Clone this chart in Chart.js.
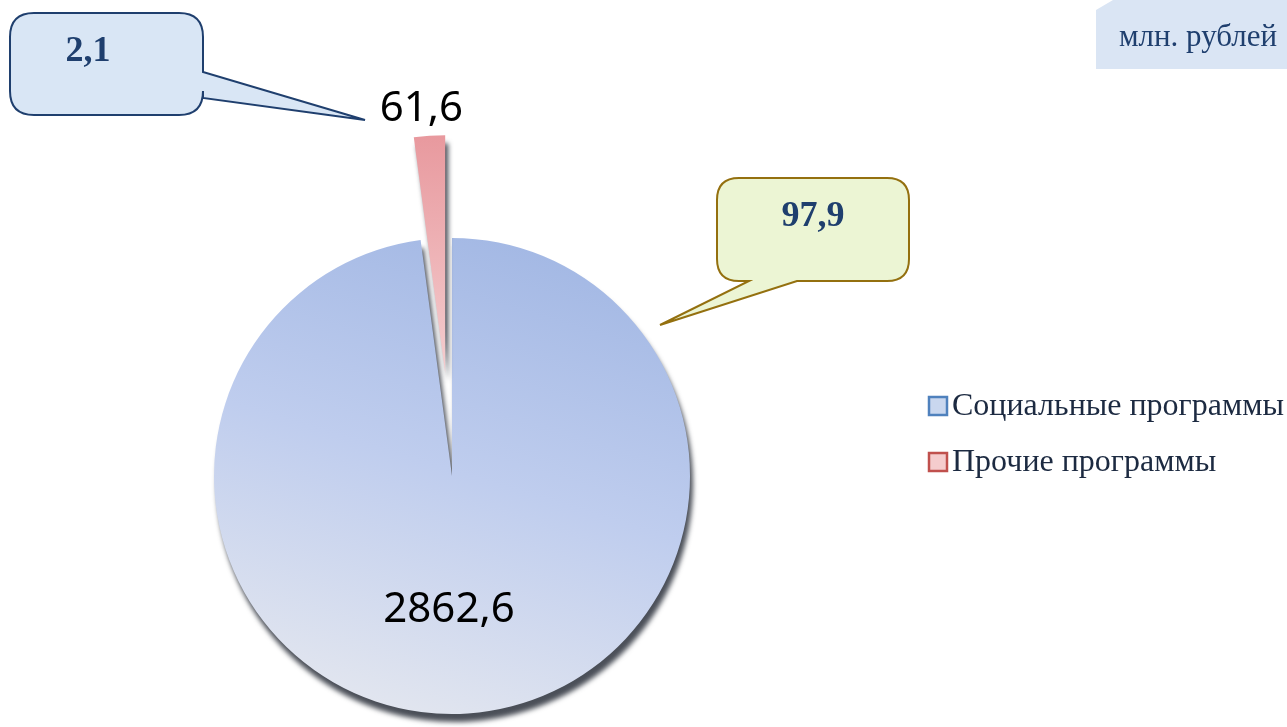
<!DOCTYPE html>
<html>
<head>
<meta charset="utf-8">
<script src="https://cdn.jsdelivr.net/npm/chart.js@4/dist/chart.umd.min.js"></script>
<style>
  html, body { margin: 0; padding: 0; background: #fff; }
  #wrap { width: 1287px; height: 727px; position: relative; }
</style>
</head>
<body>
<div id="wrap"><canvas id="pie"></canvas></div>
<script>
// data
const categories = ["Социальные программы", "Прочие программы"];
const amounts = [2862.6, 61.6];          // млн. рублей
const sharePct = ["97,9", "2,1"];        // shares shown in the callouts
const unitLabel = "млн. рублей";

const COLORS = {
  blueTop: "#a3b8e4",
  blueBottom: "#e1e5ef",
  pinkTop: "#e8999e",
  pinkTip: "#f4cdcf",
  navy: "#1f3f6e",
  legendText: "#1c2a41",
  calloutBlue: "#d9e6f5",
  calloutGreen: "#ecf5d4",
  calloutGold: "#94700f",
  units: "#dae5f4",
};

const RADIUS = 238;
const EXPLODE = 103; // how far the small slice is pulled out, px

function fmt(v) {
  return v.toFixed(1).replace(".", ",");
}

function center(chart) {
  const a = chart.chartArea;
  return { x: (a.left + a.right) / 2, y: (a.top + a.bottom) / 2 };
}

function sliceFill(context) {
  const chart = context.chart;
  if (!chart.chartArea) return context.dataIndex === 0 ? COLORS.blueTop : COLORS.pinkTop;
  const c = center(chart);
  const g2d = chart.ctx;
  if (context.dataIndex === 0) {
    const g = g2d.createLinearGradient(c.x + 0.45 * RADIUS, c.y - 0.95 * RADIUS, c.x - 0.15 * RADIUS, c.y + RADIUS);
    g.addColorStop(0, COLORS.blueTop);
    g.addColorStop(0.5, "#bfcdee");
    g.addColorStop(1, COLORS.blueBottom);
    return g;
  }
  // drawn in the un-shifted frame, the slice is moved afterwards
  const g = g2d.createLinearGradient(0, c.y - RADIUS, 0, c.y);
  g.addColorStop(0, COLORS.pinkTop);
  g.addColorStop(1, COLORS.pinkTip);
  return g;
}

function roundedCallout(ctx, box, tail, r) {
  const { l, t, b } = box;
  const rr = box.r;
  ctx.beginPath();
  ctx.moveTo(l + r, t);
  ctx.lineTo(rr - r, t);
  ctx.quadraticCurveTo(rr, t, rr, t + r);
  if (tail.side === "right") {
    ctx.lineTo(rr, tail.a);
    ctx.lineTo(tail.tip[0], tail.tip[1]);
    ctx.lineTo(rr, tail.b);
  }
  ctx.lineTo(rr, b - r);
  ctx.quadraticCurveTo(rr, b, rr - r, b);
  if (tail.side === "bottom") {
    ctx.lineTo(tail.a, b);
    ctx.lineTo(tail.tip[0], tail.tip[1]);
    ctx.lineTo(tail.b, b);
  }
  ctx.lineTo(l + r, b);
  ctx.quadraticCurveTo(l, b, l, b - r);
  ctx.lineTo(l, t + r);
  ctx.quadraticCurveTo(l, t, l + r, t);
  ctx.closePath();
}

// pull the small slice out without chart.js' offset, which also stretches
// and narrows the arc
const explodePlugin = {
  id: "explode",
  afterDatasetUpdate(chart) {
    const arc = chart.getDatasetMeta(0).data[1];
    if (!arc || arc._pulled) return;
    const base = arc.draw;
    arc.draw = function (ctx, area) {
      const mid = (this.startAngle + this.endAngle) / 2;
      ctx.save();
      ctx.translate(Math.cos(mid) * EXPLODE, Math.sin(mid) * EXPLODE);
      base.call(this, ctx, area);
      ctx.restore();
    };
    arc._pulled = true;
  },
};

const shadowPlugin = {
  id: "shadow",
  beforeDatasetsDraw(chart) {
    const c = chart.ctx;
    c.save();
    c.shadowColor = "rgba(55,60,70,0.9)";
    c.shadowBlur = 5;
    c.shadowOffsetX = 3;
    c.shadowOffsetY = 8;
  },
  afterDatasetsDraw(chart) {
    chart.ctx.restore();
  },
};

const valueLabels = {
  id: "valueLabels",
  afterDatasetsDraw(chart) {
    const ctx = chart.ctx;
    const arcs = chart.getDatasetMeta(0).data;
    ctx.save();
    ctx.font = "42px 'Noto Sans'";
    ctx.fillStyle = "#000";
    ctx.textAlign = "center";
    ctx.textBaseline = "middle";
    arcs.forEach((arc, i) => {
      if (i === 0) {
        // big slice: label sits low inside the pie
        ctx.fillText(fmt(amounts[i]), arc.x - 3, arc.y + arc.outerRadius * 0.565);
        return;
      }
      const mid = (arc.startAngle + arc.endAngle) / 2 - 0.017;
      const dist = arc.outerRadius + EXPLODE + 27;
      ctx.fillText(fmt(amounts[i]), arc.x + Math.cos(mid) * dist, arc.y + Math.sin(mid) * dist);
    });
    ctx.restore();
  },
};

const decorations = {
  id: "decorations",
  afterDraw(chart) {
    const ctx = chart.ctx;
    ctx.save();

    // callout with the share of the other programmes
    roundedCallout(ctx, { l: 10, t: 13, r: 203, b: 115 }, { side: "right", a: 72, b: 98, tip: [365, 120] }, 24);
    ctx.fillStyle = COLORS.calloutBlue;
    ctx.fill();
    ctx.lineWidth = 2;
    ctx.strokeStyle = COLORS.navy;
    ctx.stroke();

    // callout with the share of the social programmes
    roundedCallout(ctx, { l: 717, t: 178, r: 909, b: 281 }, { side: "bottom", a: 797, b: 749, tip: [660, 325] }, 22);
    ctx.fillStyle = COLORS.calloutGreen;
    ctx.fill();
    ctx.strokeStyle = COLORS.calloutGold;
    ctx.stroke();

    ctx.font = "bold 36px 'Liberation Serif'";
    ctx.fillStyle = COLORS.navy;
    ctx.textAlign = "center";
    ctx.textBaseline = "middle";
    ctx.fillText(sharePct[1], 88, 52);
    ctx.fillText(sharePct[0], 813, 217);

    // units box
    ctx.beginPath();
    ctx.moveTo(1096, 10);
    ctx.lineTo(1113, 0);
    ctx.lineTo(1287, 0);
    ctx.lineTo(1287, 69);
    ctx.lineTo(1096, 69);
    ctx.closePath();
    ctx.fillStyle = COLORS.units;
    ctx.fill();
    ctx.font = "31px 'Liberation Serif'";
    ctx.fillStyle = COLORS.navy;
    ctx.textBaseline = "alphabetic";
    ctx.fillText(unitLabel, 1198, 46);

    // legend
    const marks = [
      { border: "#4f81bd", fill: "#c9d7ef" },
      { border: "#c0504d", fill: "#f5cccd" },
    ];
    const rows = [406, 462];
    ctx.font = "32px 'Liberation Serif'";
    ctx.textAlign = "left";
    ctx.textBaseline = "middle";
    categories.forEach((name, i) => {
      const y = rows[i];
      ctx.fillStyle = marks[i].fill;
      ctx.fillRect(929, y - 9, 18, 18);
      ctx.lineWidth = 2.5;
      ctx.strokeStyle = marks[i].border;
      ctx.strokeRect(929, y - 9, 18, 18);
      ctx.fillStyle = COLORS.legendText;
      ctx.fillText(name, 952, y + 1);
    });

    ctx.restore();
  },
};

new Chart(document.getElementById("pie"), {
  type: "pie",
  data: {
    labels: categories,
    datasets: [{
      data: amounts,
      backgroundColor: sliceFill,
      borderWidth: 0,
    }],
  },
  options: {
    responsive: true,
    maintainAspectRatio: false,
    animation: false,
    radius: RADIUS,
    rotation: 0,
    layout: { padding: { left: 0, right: 383, top: 230, bottom: 5 } },
    plugins: {
      legend: { display: false },
      tooltip: { enabled: false },
    },
  },
  plugins: [explodePlugin, shadowPlugin, valueLabels, decorations],
});
</script>
</body>
</html>
